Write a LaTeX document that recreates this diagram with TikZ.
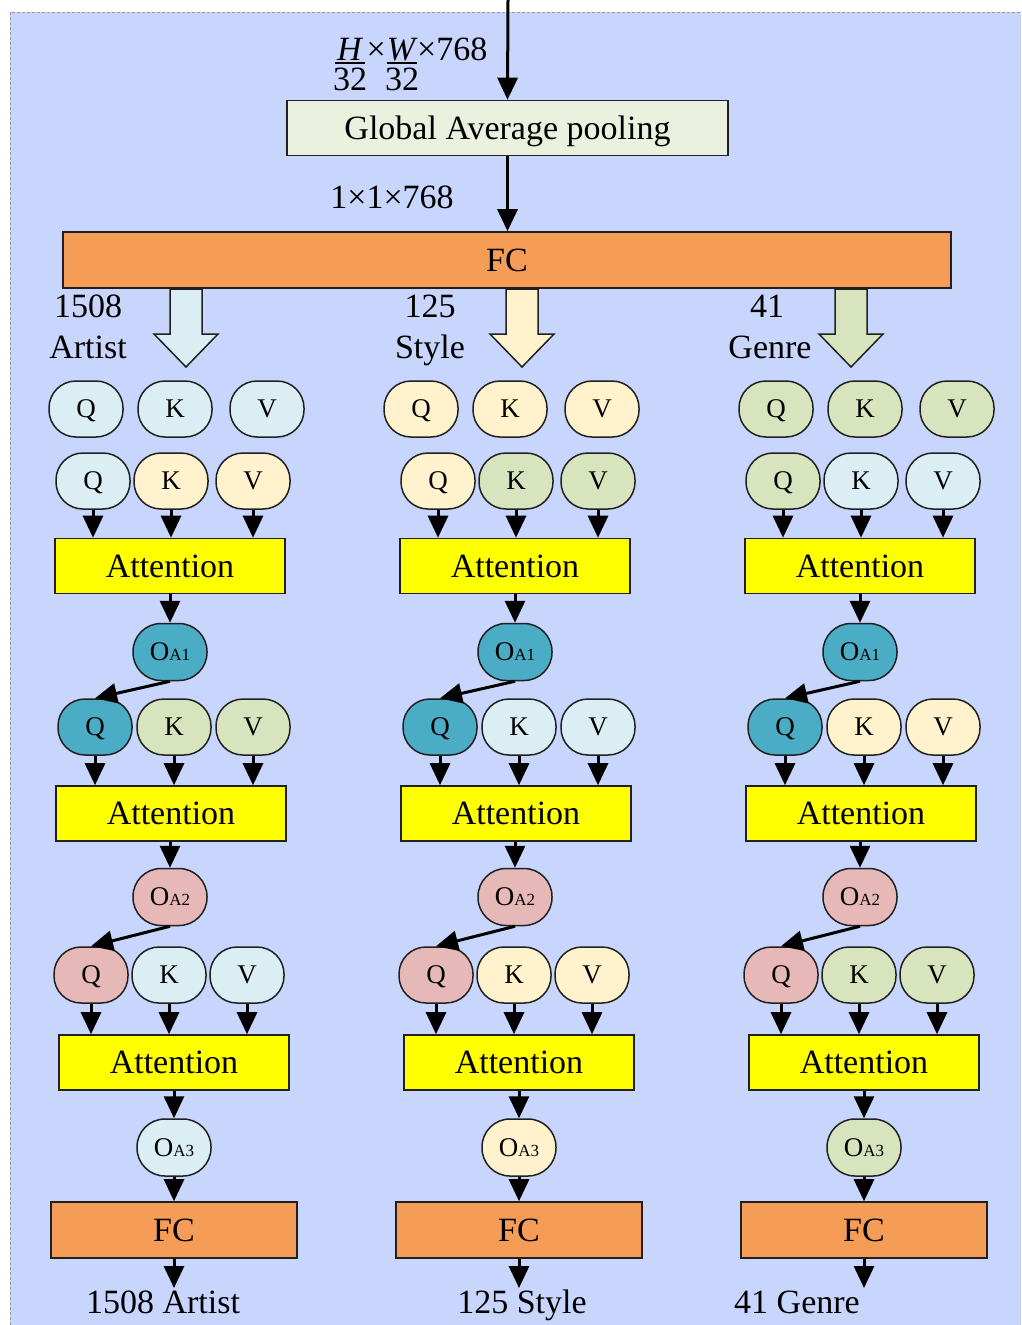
\documentclass[tikz,border=0pt]{standalone}
\usepackage{fontspec}
\setmainfont{Liberation Serif}
\usetikzlibrary{arrows.meta}

\definecolor{bgblue}{HTML}{C8D6FD}
\definecolor{gapfill}{HTML}{EBF1DE}
\definecolor{fcorange}{HTML}{F59D56}
\definecolor{attyellow}{HTML}{FFFF00}
\definecolor{artistc}{HTML}{DAEEF3}
\definecolor{stylec}{HTML}{FFF2CC}
\definecolor{genrec}{HTML}{D7E4BD}
\definecolor{tealc}{HTML}{4BACC6}
\definecolor{pinkc}{HTML}{E6B9B8}
\definecolor{edgec}{HTML}{202020}

\tikzset{
  every node/.style={font=\fontsize{34}{40}\selectfont, inner sep=0pt, text depth=0pt},
  arr/.style={line width=3pt, -{Triangle[length=22pt,width=20pt]}},
  rectbox/.style={draw=edgec, line width=1.6pt, minimum height=55pt},
  attbox/.style={rectbox, fill=attyellow, minimum width=230pt},
  fcbox/.style={rectbox, fill=fcorange, minimum width=246pt, minimum height=56pt},
  qkv/.style={draw=edgec, line width=1.5pt, rounded corners=27pt,
    minimum width=74pt, minimum height=56pt, font=\fontsize{27}{30}\selectfont},
  obox/.style={qkv, minimum width=74pt, minimum height=57pt, rounded corners=28pt,
    font=\fontsize{27}{30}\selectfont},
  bigarrow/.style={draw=edgec, line width=1.5pt},
  lbl/.style={anchor=base},
}

% output of an attention stage: O with a small index
\newcommand{\outlbl}[1]{O{\fontsize{17}{17}\selectfont #1}}

% one branch: #1 name prefix, #2 column centre, #3 shift of the first row,
% #4 x of the broad arrow, #5 branch colour, #6 key/value colour of stage 1,
% #7 key/value colour of stage 2
\newcommand{\branch}[7]{%
  \path[bigarrow, fill=#5]
    ({#4-16},289) -- ({#4+16},289) -- ({#4+16},334) -- ({#4+32},334)
    -- (#4,367) -- ({#4-32},334) -- ({#4-16},334) -- cycle;
  \node[qkv, fill=#5] (#1q1) at ({#2+#3-84},409) {Q};
  \node[qkv, fill=#5] (#1k1) at ({#2+#3+5},409) {K};
  \node[qkv, fill=#5] (#1v1) at ({#2+#3+97},409) {V};
  % stage 1
  \node[qkv, fill=#5] (#1q2) at ({#2-77},481) {Q};
  \node[qkv, fill=#6] (#1k2) at ({#2+1},481) {K};
  \node[qkv, fill=#6] (#1v2) at ({#2+83},481) {V};
  \node[attbox] (#1a1) at (#2,566) {Attention};
  \node[obox, fill=tealc] (#1o1) at (#2,652) {\outlbl{A1}};
  % stage 2
  \node[qkv, fill=tealc] (#1q3) at ({#2-75},727) {Q};
  \node[qkv, fill=#7] (#1k3) at ({#2+4},727) {K};
  \node[qkv, fill=#7] (#1v3) at ({#2+83},727) {V};
  \node[attbox] (#1a2) at ({#2+1},813.5) {Attention};
  \node[obox, fill=pinkc] (#1o2) at (#2,897) {\outlbl{A2}};
  % stage 3
  \node[qkv, fill=pinkc] (#1q4) at ({#2-79},975) {Q};
  \node[qkv, fill=#5] (#1k4) at ({#2-1},975) {K};
  \node[qkv, fill=#5] (#1v4) at ({#2+77},975) {V};
  \node[attbox] (#1a3) at ({#2+4},1062.5) {Attention};
  \node[obox, fill=#5] (#1o3) at ({#2+4},1147.5) {\outlbl{A3}};
  \node[fcbox] (#1fc) at ({#2+4},1230) {FC};
  \coordinate (#1out) at ({#2+4},1288);
  % connectors
  \foreach \r/\a in {2/1,3/2,4/3}{
    \draw[arr] (#1q\r.south) -- (#1q\r.south |- #1a\a.north);
    \draw[arr] (#1k\r.south) -- (#1k\r.south |- #1a\a.north);
    \draw[arr] (#1v\r.south) -- (#1v\r.south |- #1a\a.north);
  }
  \draw[arr] (#1o1.north |- #1a1.south) -- (#1o1.north);
  \draw[arr] (#1o2.north |- #1a2.south) -- (#1o2.north);
  \draw[arr] (#1o3.north |- #1a3.south) -- (#1o3.north);
  \draw[arr] (#1o1.south) -- (#1q3.north);
  \draw[arr] (#1o2.south) -- (#1q4.north);
  \draw[arr] (#1o3.south) -- (#1fc.north);
  \draw[arr] (#1fc.south) -- (#1out);
}

\begin{document}
\begin{tikzpicture}[x=1pt, y=-1pt]
  \useasboundingbox (0,0) rectangle (1021,1325);
  % panel
  \fill[bgblue] (10,12) rectangle (1021,1325);
  \draw[gray!80, line width=1pt, dash pattern=on 3pt off 2pt] (10,1325) -- (10,12) -- (1021,12);

  % shared trunk
  \coordinate (in) at (508,0);
  \node[rectbox, fill=gapfill, minimum width=441pt] (gap) at (507.5,128) {Global Average pooling};
  \node[rectbox, fill=fcorange, minimum width=888pt, minimum height=56pt] (fc) at (507,260) {FC};
  \draw[arr] (in) -- (gap.north);
  \draw[arr] (gap.south) -- (gap.south |- fc.north);

  % feature size label (H/32 x W/32 x 768), set as one two-line block
  \node[anchor=base west] (dims) at (335,60)
    {\begin{tabular}[t]{@{}l@{}}
      \makebox[30pt]{\textit{H}}\makebox[22pt]{×}\makebox[30pt]{\textit{W}}×768\\[-10pt]
      \makebox[30pt]{32}\makebox[22pt]{}\makebox[30pt]{32}
    \end{tabular}};
  \draw[line width=1.5pt] (335,63) -- (365,63);
  \draw[line width=1.5pt] (387,63) -- (417,63);
  \node[lbl] (pooled) at (392,208) {1×1×768};

  % three branches
  \branch{ar}{170}{0}{186}{artistc}{stylec}{genrec}
  \branch{st}{515}{-10}{522}{stylec}{genrec}{artistc}
  \branch{ge}{860}{0}{851}{genrec}{artistc}{stylec}

  % class counts
  \node[lbl] (arn) at (88,317) {1508};
  \node[lbl] (art) at (88,358) {Artist};
  \node[lbl] (stn) at (430,317) {125};
  \node[lbl] (stt) at (430,358) {Style};
  \node[lbl] (gen) at (767,317) {41};
  \node[lbl] (get) at (770,358) {Genre};

  \node[lbl] (arres) at (163,1313) {1508 Artist};
  \node[lbl] (stres) at (522,1313) {125 Style};
  \node[lbl] (geres) at (797,1313) {41 Genre};
\end{tikzpicture}
\end{document}
